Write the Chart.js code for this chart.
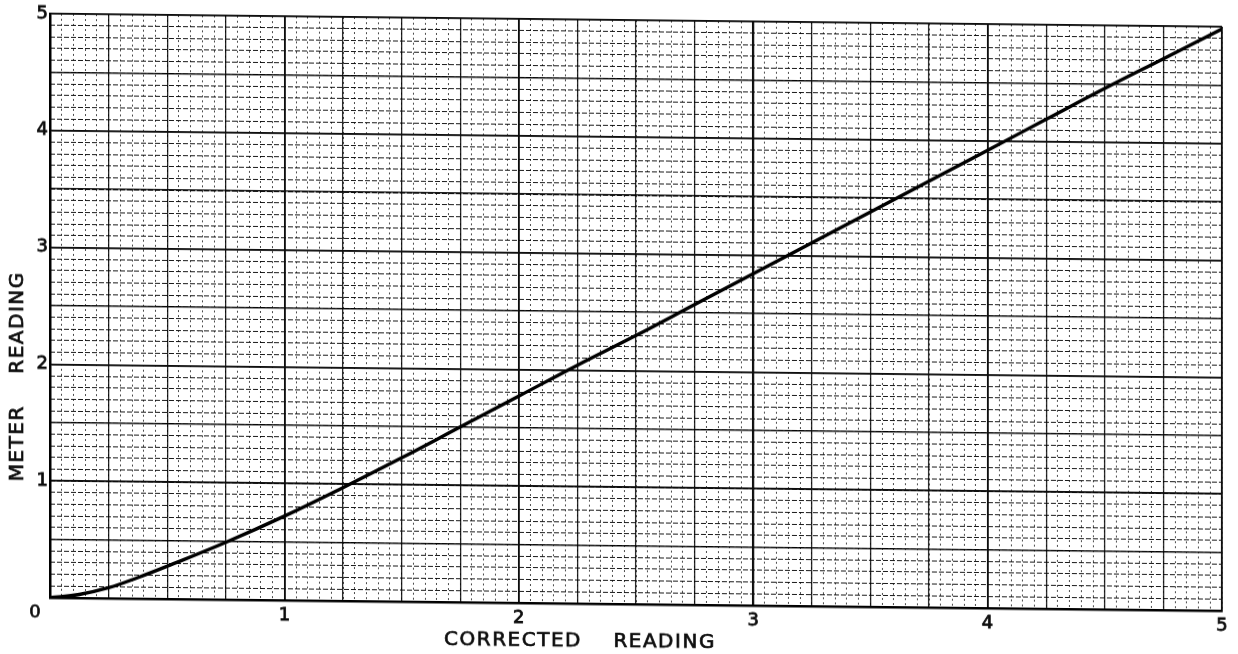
<!DOCTYPE html>
<html>
<head>
<meta charset="utf-8">
<script src="https://cdn.jsdelivr.net/npm/chart.js@4.4.1/dist/chart.umd.min.js"></script>
<style>
  html, body { margin: 0; padding: 0; background: #fff; overflow: hidden; }
  /* the scanned sheet is slightly skewed */
  #chart { display: block; transform: skewY(0.64deg); }
</style>
</head>
<body>
<canvas id="chart" width="1238" height="654"></canvas>
<script>
const CORRECTED = [0, 0.125, 0.25, 0.375, 0.5, 0.75, 1, 1.25, 1.5, 1.75, 2, 2.25, 2.5, 2.75, 3, 3.25, 3.5, 3.75, 4, 4.25, 4.5, 4.75, 5];
const METER     = [0, 0.03, 0.09, 0.18, 0.28, 0.49, 0.72, 0.97, 1.23, 1.5, 1.77, 2.04, 2.3, 2.57, 2.84, 3.11, 3.38, 3.65, 3.92, 4.19, 4.46, 4.72, 4.98];

const X_TICK_LABELS = ['', '1', '2', '3', '4', '5'];
const Y_TICK_LABELS = ['', '1', '2', '3', '4', '5'];
const ORIGIN_LABEL  = '0';
const X_TITLE       = 'CORRECTED    READING';
const Y_TITLE       = 'METER    READING';

const INK  = '#0d0d0d';
const FONT = 'DejaVu Sans';

// grid-only axis for the graph-paper rulings
function ruling(axis, step, z, color, width, dash) {
    return {
        type: 'linear',
        position: axis === 'x' ? 'bottom' : 'left',
        axis,
        min: 0,
        max: 5,
        ticks: { display: false, stepSize: step, autoSkip: false },
        grid: { color, lineWidth: width, drawTicks: false, z },
        border: { display: false, dash },
        afterFit: (s) => { if (axis === 'x') s.height = 0; else s.width = 0; }
    };
}

// lettering is drawn a little heavier than the plain font
function letter(ctx, text, x, y) {
    ctx.strokeText(text, x, y);
    ctx.fillText(text, x, y);
}

const sheetText = {
    id: 'sheetText',
    afterDraw(chart) {
        const { ctx, chartArea } = chart;
        ctx.save();
        ctx.fillStyle = INK;
        ctx.strokeStyle = INK;
        ctx.lineWidth = 0.7;
        ctx.textAlign = 'center';
        ctx.textBaseline = 'middle';

        ctx.font = `18px "${FONT}"`;
        letter(ctx, ORIGIN_LABEL, chartArea.left - 15, chartArea.bottom + 15);

        ctx.font = `20px "${FONT}"`;
        ctx.letterSpacing = '1.5px';
        letter(ctx, X_TITLE, chartArea.left + 530, chartArea.bottom + 38);

        ctx.translate(18, chartArea.top + 363);
        ctx.rotate(-Math.PI / 2);
        letter(ctx, Y_TITLE, 0, 0);
        ctx.restore();
    }
};

const tickFont = { family: FONT, size: 18 };

new Chart(document.getElementById('chart').getContext('2d'), {
    type: 'line',
    data: {
        datasets: [{
            data: CORRECTED.map((x, i) => ({ x, y: METER[i] })),
            borderColor: '#000',
            borderWidth: 3.4,
            pointRadius: 0,
            tension: 0.4,
            xAxisID: 'x',
            yAxisID: 'y'
        }]
    },
    options: {
        responsive: false,
        animation: false,
        layout: { padding: { top: 20, right: 16 } },
        plugins: { legend: { display: false }, tooltip: { enabled: false } },
        scales: {
            x: {
                type: 'linear',
                position: 'bottom',
                min: 0,
                max: 5,
                ticks: {
                    stepSize: 1,
                    autoSkip: false,
                    maxRotation: 0,
                    padding: 5,
                    color: INK,
                    textStrokeColor: INK,
                    textStrokeWidth: 0.8,
                    font: tickFont,
                    callback: (v) => X_TICK_LABELS[v] ?? ''
                },
                grid: { color: INK, lineWidth: 1.8, drawTicks: false, z: -1 },
                border: { color: '#000', width: 2.5 },
                afterFit: (s) => { s.height = 50; }
            },
            y: {
                type: 'linear',
                position: 'left',
                min: 0,
                max: 5,
                ticks: {
                    stepSize: 1,
                    autoSkip: false,
                    padding: 2,
                    color: INK,
                    textStrokeColor: INK,
                    textStrokeWidth: 0.8,
                    font: tickFont,
                    callback: (v) => Y_TICK_LABELS[v] ?? ''
                },
                grid: { color: INK, lineWidth: 1.8, drawTicks: false, z: -1 },
                border: { color: '#000', width: 2.5 },
                afterFit: (s) => { s.width = 50; }
            },
            xHalf:  ruling('x', 0.25, -2, 'rgba(0,0,0,0.85)', 1.3, []),
            yHalf:  ruling('y', 0.5,  -2, 'rgba(0,0,0,0.9)', 1.5, []),
            xFine:  ruling('x', 0.05, -3, 'rgba(0,0,0,0.7)', 1, [2, 3]),
            yFine:  ruling('y', 0.1,  -3, 'rgba(0,0,0,0.9)', 1.1, [5, 2])
        }
    },
    plugins: [sheetText]
});
</script>
</body>
</html>
